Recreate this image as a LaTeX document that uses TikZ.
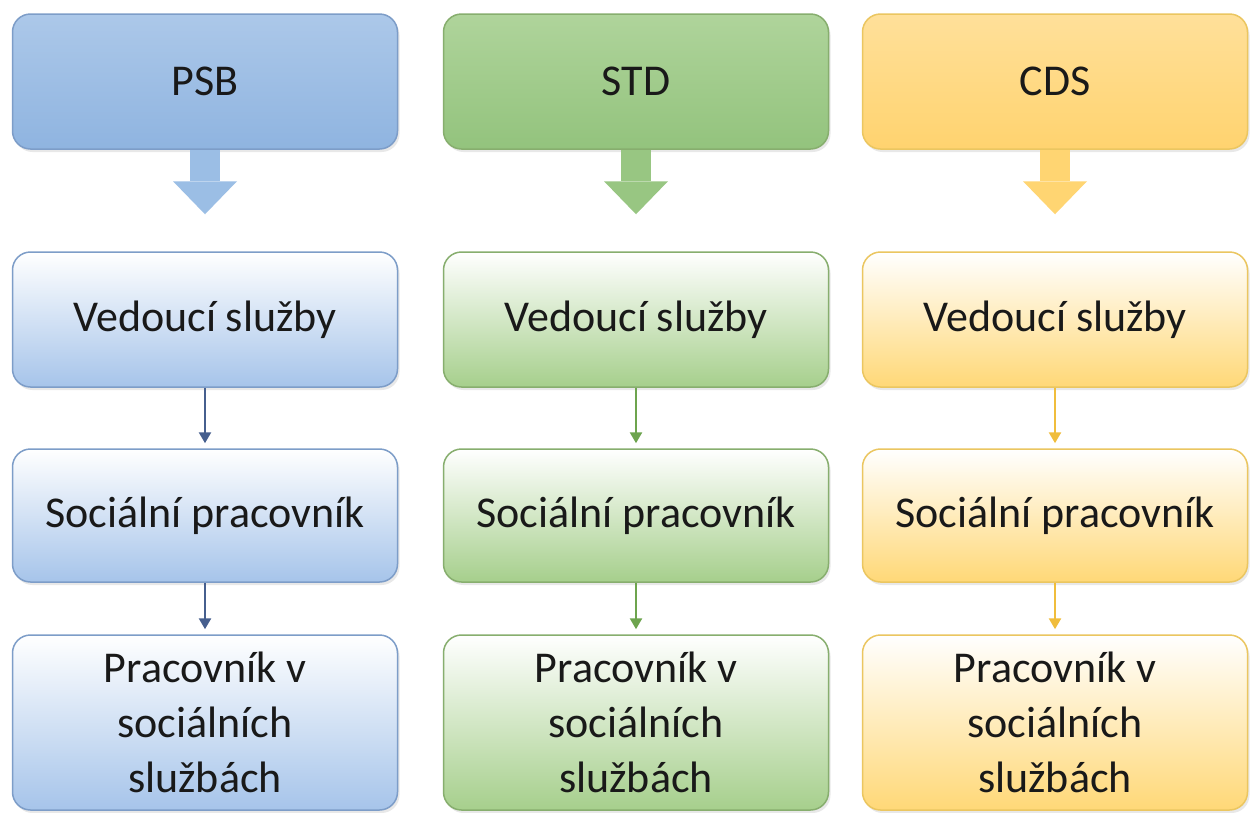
\documentclass[tikz,border=0pt]{standalone}
\usepackage{fontspec}
\setmainfont{Carlito}
\usetikzlibrary{positioning,arrows.meta,shadows}

\definecolor{psbtop}{HTML}{ACC8E9}
\definecolor{psbbot}{HTML}{8FB4E0}
\definecolor{psbdark}{HTML}{7D9DC8}
\definecolor{psblow}{HTML}{A6C4EA}
\definecolor{psbarr}{HTML}{9BBEE5}
\definecolor{psbline}{HTML}{465F8E}

\definecolor{stdtop}{HTML}{AFD49B}
\definecolor{stdbot}{HTML}{93C37D}
\definecolor{stddark}{HTML}{87AE6E}
\definecolor{stdlow}{HTML}{A6CF8C}
\definecolor{stdarr}{HTML}{98C682}
\definecolor{stdline}{HTML}{6DA44E}

\definecolor{cdstop}{HTML}{FFE09A}
\definecolor{cdsbot}{HTML}{FFD36F}
\definecolor{cdsdark}{HTML}{EBC660}
\definecolor{cdslow}{HTML}{FFD877}
\definecolor{cdsarr}{HTML}{FFD572}
\definecolor{cdsline}{HTML}{F0BD3C}

\tikzset{
  box/.style={draw=#1dark, line width=1.5pt, rounded corners=18pt,
    minimum width=385pt, inner sep=0pt, align=center,
    drop shadow={opacity=0.18, shadow xshift=2pt, shadow yshift=-3pt}},
  headbox/.style={box=#1, top color=#1top, bottom color=#1bot, minimum height=135pt},
  rolebox/.style={box=#1, top color=white, middle color=#1low!35, bottom color=#1low},
  bigarrow/.style={draw=#1, line width=30pt, shorten >=37pt,
    -{Triangle[length=33pt, width=64pt, line width=0pt]}},
  link/.style={draw=#1, line width=2.5pt, shorten >=5pt,
    -{Triangle[length=11pt, width=12pt]}}
}

\begin{document}
\begin{tikzpicture}[x=1pt, y=-1pt,
    every node/.style={font=\fontsize{44}{55}\selectfont, text=black!90}]

    \useasboundingbox[fill=white] (0,0) rectangle (1253,812);

    % PSB
    \node[headbox=psb] (psb) at (205,81.5) {PSB};
    \node[rolebox=psb, minimum height=135pt] (psbvs) at (205,319.5) {Vedoucí služby};
    \node[rolebox=psb, minimum height=133pt] (psbsp) at (205,515.5) {Sociální pracovník};
    \node[rolebox=psb, minimum height=175pt] (psbpss) at (205,722.5) {Pracovník v\\sociálních\\službách};

    % STD
    \node[headbox=std] (std) at (636,81.5) {STD};
    \node[rolebox=std, minimum height=135pt] (stdvs) at (636,319.5) {Vedoucí služby};
    \node[rolebox=std, minimum height=133pt] (stdsp) at (636,515.5) {Sociální pracovník};
    \node[rolebox=std, minimum height=175pt] (stdpss) at (636,722.5) {Pracovník v\\sociálních\\službách};

    % CDS
    \node[headbox=cds] (cds) at (1055,81.5) {CDS};
    \node[rolebox=cds, minimum height=135pt] (cdsvs) at (1055,319.5) {Vedoucí služby};
    \node[rolebox=cds, minimum height=133pt] (cdssp) at (1055,515.5) {Sociální pracovník};
    \node[rolebox=cds, minimum height=175pt] (cdspss) at (1055,722.5) {Pracovník v\\sociálních\\službách};

    \draw[bigarrow=psbarr] (psb) -- (psbvs);
    \draw[bigarrow=stdarr] (std) -- (stdvs);
    \draw[bigarrow=cdsarr] (cds) -- (cdsvs);

    \draw[link=psbline] (psbvs) -- (psbsp);
    \draw[link=psbline] (psbsp) -- (psbpss);
    \draw[link=stdline] (stdvs) -- (stdsp);
    \draw[link=stdline] (stdsp) -- (stdpss);
    \draw[link=cdsline] (cdsvs) -- (cdssp);
    \draw[link=cdsline] (cdssp) -- (cdspss);

\end{tikzpicture}
\end{document}
